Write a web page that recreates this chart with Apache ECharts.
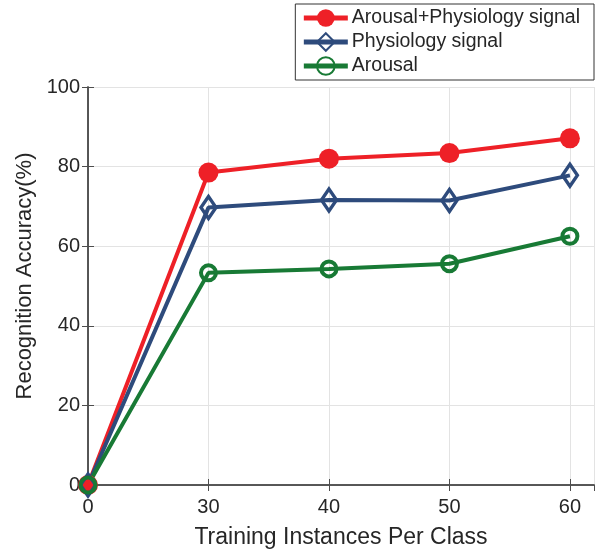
<!DOCTYPE html>
<html>
<head>
<meta charset="utf-8">
<script src="https://cdn.jsdelivr.net/npm/echarts@6/dist/echarts.min.js"></script>
<style>
  html, body { margin: 0; padding: 0; background: #fff; }
  #chart { width: 597px; height: 555px; }
</style>
</head>
<body>
<div id="chart"></div>
<script>
// x categories (evenly spaced in the figure)
var xLabels = ['0', '30', '40', '50', '60'];
var yTicks = [0, 20, 40, 60, 80, 100];

var seriesNames = ['Arousal+Physiology signal', 'Physiology signal', 'Arousal'];
var fusionAcc = [0, 78.5, 82.0, 83.4, 87.1];
var physioAcc = [0, 69.7, 71.6, 71.5, 77.8];
var arousalAcc = [0, 53.3, 54.3, 55.6, 62.5];

function toPoints(arr) {
  return arr.map(function (v, i) { return [i, v]; });
}

var font = 'Arial, "Liberation Sans", Helvetica, sans-serif';
var axisColor = '#4d4d4d';
var textColor = '#262626';

var chart = echarts.init(document.getElementById('chart'), null, { renderer: 'canvas' });

var option = {
  backgroundColor: '#ffffff',
  animation: false,
  textStyle: { fontFamily: font },
  grid: { left: 88, top: 87, right: 3, bottom: 70, containLabel: false },
  legend: {
    orient: 'vertical',
    right: 3,
    top: 4,
    data: seriesNames,
    itemWidth: 44,
    itemHeight: 22,
    itemGap: 4,
    padding: [4, 14, 4, 6],
    borderColor: '#333',
    borderWidth: 1,
    lineStyle: { width: 5 },
    textStyle: { fontSize: 19.5, color: textColor, fontFamily: font, padding: [0, 0, 0, -1] }
  },
  xAxis: [{
    type: 'value',
    min: 0,
    max: 4.2,
    interval: 1,
    name: 'Training Instances Per Class',
    nameLocation: 'middle',
    nameGap: 41,
    nameTextStyle: { fontSize: 23, color: textColor, fontFamily: font },
    axisLine: { show: true, lineStyle: { color: axisColor, width: 1.5 } },
    axisTick: { show: true, inside: true, length: 6, lineStyle: { color: axisColor } },
    axisLabel: {
      fontSize: 20, color: textColor, margin: 12, fontFamily: font,
      showMaxLabel: false,
      formatter: function (v) { return xLabels[v] !== undefined ? xLabels[v] : ''; }
    },
    splitLine: { show: true, lineStyle: { color: '#e3e3e3', width: 1 } }
  }, {
    type: 'value',
    position: 'top',
    min: 0,
    max: 4.2,
    interval: 1,
    axisLine: { show: true, lineStyle: { color: axisColor, width: 1.5 } },
    axisTick: { show: true, inside: true, length: 6, lineStyle: { color: axisColor } },
    axisLabel: { show: false },
    splitLine: { show: false }
  }],
  yAxis: [{
    type: 'value',
    min: yTicks[0],
    max: yTicks[yTicks.length - 1],
    interval: 20,
    name: 'Recognition Accuracy(%)',
    nameLocation: 'middle',
    nameGap: 44,
    nameTextStyle: { fontSize: 22, color: textColor, fontFamily: font, padding: [0, 0, 0, 20] },
    axisLine: { show: true, lineStyle: { color: axisColor, width: 1.5 } },
    axisTick: { show: true, inside: true, length: 6, lineStyle: { color: axisColor } },
    axisLabel: { fontSize: 20, color: textColor, margin: 8, fontFamily: font },
    splitLine: { show: true, lineStyle: { color: '#e3e3e3', width: 1 } }
  }, {
    type: 'value',
    position: 'right',
    min: 0,
    max: 100,
    interval: 20,
    axisLine: { show: true, lineStyle: { color: axisColor, width: 1.5 } },
    axisTick: { show: true, inside: true, length: 6, lineStyle: { color: axisColor } },
    axisLabel: { show: false },
    splitLine: { show: false }
  }],
  series: [{
    name: seriesNames[0],
    type: 'line',
    data: toPoints(fusionAcc),
    symbol: 'circle',
    symbolSize: 20,
    lineStyle: { color: '#ee2027', width: 4 },
    itemStyle: { color: '#ee2027' }
  }, {
    name: seriesNames[1],
    type: 'line',
    data: toPoints(physioAcc),
    symbol: 'diamond',
    symbolSize: [15, 22],
    lineStyle: { color: '#2e4b7c', width: 4 },
    itemStyle: { color: 'rgba(255,255,255,0)', borderColor: '#2e4b7c', borderWidth: 3.5 }
  }, {
    name: seriesNames[2],
    type: 'line',
    data: toPoints(arousalAcc),
    symbol: 'circle',
    symbolSize: 15,
    lineStyle: { color: '#187a35', width: 4 },
    itemStyle: { color: 'rgba(255,255,255,0)', borderColor: '#187a35', borderWidth: 4 }
  }]
};

chart.setOption(option);
</script>
</body>
</html>
